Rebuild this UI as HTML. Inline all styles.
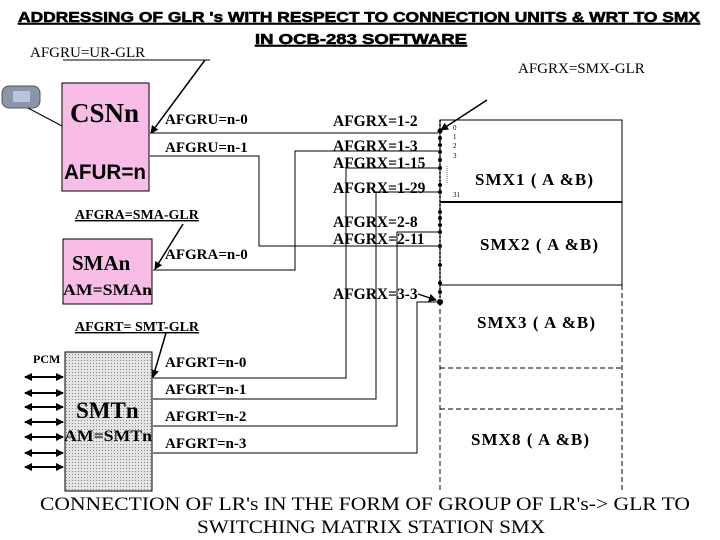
<!DOCTYPE html>
<html><head><style>body{margin:0;background:#fff}svg{display:block}</style></head><body>
<svg width="720" height="540" xmlns="http://www.w3.org/2000/svg" font-family="Liberation Serif, serif">
<defs>
<marker id="a" markerWidth="8" markerHeight="8" refX="7" refY="4" orient="auto" markerUnits="userSpaceOnUse"><path d="M0,0L8,4L0,8z" fill="#000"/></marker>
<marker id="b" markerWidth="8" markerHeight="8" refX="1" refY="4" orient="auto" markerUnits="userSpaceOnUse"><path d="M8,0L0,4L8,8z" fill="#000"/></marker>
<pattern id="dp" width="3" height="3" patternUnits="userSpaceOnUse"><rect width="3" height="3" fill="#e4e4e4"/><rect width="1" height="1" fill="#888"/></pattern>
</defs>
<g font-family="Liberation Sans, sans-serif" font-weight="bold" font-size="15" text-decoration="underline" stroke="#000" stroke-width="0.6">
<text x="18" y="22" textLength="682" lengthAdjust="spacingAndGlyphs">ADDRESSING OF GLR 's WITH RESPECT TO CONNECTION UNITS &amp; WRT TO SMX</text>
<text x="255" y="44" textLength="212" lengthAdjust="spacingAndGlyphs">IN OCB-283  SOFTWARE</text>
</g>
<g font-size="15">
<text x="30" y="57">AFGRU=UR-GLR</text>
<text x="518" y="73">AFGRX=SMX-GLR</text>
</g>
<line x1="63" y1="60" x2="210" y2="60" stroke="#000"/>
<line x1="205" y1="60" x2="151" y2="133" stroke="#000" stroke-width="1.5" marker-end="url(#a)"/>
<line x1="487" y1="100" x2="441" y2="130" stroke="#000" stroke-width="1.5" marker-end="url(#a)"/>
<!-- phone -->
<rect x="2" y="86" width="38" height="22" rx="7" fill="#8a95a8" stroke="#555"/>
<rect x="13" y="91" width="17" height="11" fill="#b8c4e0"/>
<line x1="28" y1="108" x2="62" y2="126" stroke="#000"/>
<!-- CSNn -->
<rect x="62" y="83" width="87" height="108" fill="#f8bde6" stroke="#000"/>
<text x="70" y="122" font-size="27" font-weight="bold">CSNn</text>
<text x="64" y="179" font-size="21" font-weight="bold" font-family="Liberation Sans, sans-serif" textLength="82" lengthAdjust="spacingAndGlyphs">AFUR=n</text>
<!-- SMAn -->
<rect x="63" y="239" width="89" height="65" fill="#f8bde6" stroke="#000"/>
<text x="72" y="270" font-size="21" font-weight="bold">SMAn</text>
<text x="63" y="295" font-size="16" font-weight="bold" textLength="89" lengthAdjust="spacingAndGlyphs">AM=SMAn</text>
<text x="75" y="219" font-size="14" font-weight="bold" text-decoration="underline">AFGRA=SMA-GLR</text>
<line x1="183" y1="224" x2="155" y2="269" stroke="#000" stroke-width="1.5" marker-end="url(#a)"/>
<!-- SMTn -->
<rect x="65" y="352" width="87" height="139" fill="url(#dp)" stroke="#000"/>
<text x="76" y="418" font-size="23" font-weight="bold">SMTn</text>
<text x="64" y="441" font-size="16" font-weight="bold" textLength="88" lengthAdjust="spacingAndGlyphs">AM=SMTn</text>
<text x="75" y="331" font-size="14" font-weight="bold" text-decoration="underline">AFGRT= SMT-GLR</text>
<line x1="166" y1="333" x2="153" y2="377" stroke="#000" stroke-width="1.5" marker-end="url(#a)"/>
<text x="33" y="363" font-size="12" font-weight="bold">PCM</text>
<g stroke="#000" stroke-width="2" marker-end="url(#a)" marker-start="url(#b)">
<line x1="25" y1="377" x2="63" y2="377"/><line x1="25" y1="393" x2="63" y2="393"/><line x1="25" y1="407" x2="63" y2="407"/><line x1="25" y1="422" x2="63" y2="422"/><line x1="25" y1="437" x2="63" y2="437"/><line x1="25" y1="453" x2="63" y2="453"/><line x1="25" y1="467" x2="63" y2="467"/>
</g>
<!-- labels -->
<g font-size="15" font-weight="bold">
<text x="165" y="124">AFGRU=n-0</text>
<text x="165" y="152">AFGRU=n-1</text>
<text x="165" y="259">AFGRA=n-0</text>
<text x="165" y="367">AFGRT=n-0</text>
<text x="165" y="394">AFGRT=n-1</text>
<text x="165" y="421">AFGRT=n-2</text>
<text x="165" y="448">AFGRT=n-3</text>
</g>
<g font-size="15.5" font-weight="bold">
<text x="333" y="126">AFGRX=1-2</text>
<text x="333" y="151">AFGRX=1-3</text>
<text x="333" y="168">AFGRX=1-15</text>
<text x="333" y="193">AFGRX=1-29</text>
<text x="333" y="227">AFGRX=2-8</text>
<text x="333" y="244">AFGRX=2-11</text>
<text x="333" y="299">AFGRX=3-3</text>
</g>
<!-- connectors -->
<g stroke="#000" fill="none" stroke-width="1">
<polyline points="150,133 438,133"/>
<polyline points="150,156 259,156 259,246 438,246"/>
<polyline points="438,151 295,151 295,270 153,270"/>
<polyline points="438,168 346,168 346,378 153,378"/>
<polyline points="438,192 376,192 376,399 153,399"/>
<polyline points="438,232 397,232 397,426 153,426"/>
<polyline points="438,302 417,302 417,453 153,453"/>
</g>
<line x1="418" y1="294" x2="436" y2="300" stroke="#000" stroke-width="1.3" marker-end="url(#a)"/>
<!-- SMX -->
<rect x="440" y="120" width="182" height="82" fill="none" stroke="#000"/>
<rect x="440" y="202" width="182" height="83" fill="none" stroke="#000"/>
<line x1="440" y1="202" x2="622" y2="202" stroke="#000" stroke-width="2"/>
<g stroke="#000" stroke-dasharray="5,3" fill="none">
<line x1="440" y1="285" x2="622" y2="285"/>
<line x1="440" y1="368" x2="622" y2="368"/>
<line x1="440" y1="409" x2="622" y2="409"/>
<line x1="440" y1="285" x2="440" y2="490"/>
<line x1="622" y1="285" x2="622" y2="490"/>
</g>
<line x1="440" y1="120" x2="440" y2="300" stroke="#000" stroke-width="1.5" stroke-dasharray="2,2"/>
<g fill="#000">
<circle cx="440" cy="131" r="2.5"/><circle cx="440" cy="138" r="2"/><circle cx="440" cy="145" r="2"/><circle cx="440" cy="152" r="2"/><circle cx="440" cy="160" r="2"/><circle cx="440" cy="168" r="2"/><circle cx="440" cy="185" r="2"/><circle cx="440" cy="192" r="2"/>
<circle cx="440" cy="212" r="2"/><circle cx="440" cy="218" r="2"/><circle cx="440" cy="225" r="2"/><circle cx="440" cy="232" r="2"/><circle cx="440" cy="246" r="2"/><circle cx="440" cy="265" r="2"/><circle cx="440" cy="283" r="2"/><circle cx="440" cy="292" r="2"/><circle cx="440" cy="302" r="3"/>
</g>
<g font-size="7"><text x="453" y="130">0</text><text x="453" y="139">1</text><text x="453" y="148">2</text><text x="453" y="158">3</text><text x="453" y="197">31</text></g>
<line x1="447" y1="166" x2="447" y2="183" stroke="#000" stroke-width="0.6" stroke-dasharray="1,1"/>
<g font-size="17" font-weight="bold">
<text x="475" y="185" textLength="118" lengthAdjust="spacing">SMX1  ( A &amp;B)</text>
<text x="480" y="250" textLength="118" lengthAdjust="spacing">SMX2  ( A &amp;B)</text>
<text x="477" y="328" textLength="118" lengthAdjust="spacing">SMX3  ( A &amp;B)</text>
<text x="471" y="445" textLength="118" lengthAdjust="spacing">SMX8  ( A &amp;B)</text>
</g>
<g font-size="19">
<text x="40" y="510" textLength="650" lengthAdjust="spacingAndGlyphs">CONNECTION OF LR's IN THE FORM OF GROUP OF LR's-&gt;  GLR TO</text>
<text x="197" y="533" textLength="348" lengthAdjust="spacingAndGlyphs">SWITCHING MATRIX STATION SMX</text>
</g>
</svg>
</body></html>
